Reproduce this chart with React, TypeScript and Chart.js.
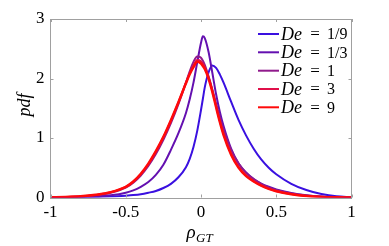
import React, { useEffect, useRef } from "react";
import { Chart, registerables } from "chart.js";

Chart.register(...registerables);

const xs = [-1, -0.9, -0.8, -0.7, -0.6, -0.5, -0.45, -0.4, -0.35, -0.3, -0.25, -0.2, -0.15, -0.1, -0.075, -0.05, -0.025, 0, 0.0125, 0.025, 0.05, 0.075, 0.1, 0.125, 0.15, 0.2, 0.25, 0.3, 0.35, 0.4, 0.45, 0.5, 0.6, 0.7, 0.8, 0.9, 1];

const pdfDe1_9 = [0.0, 0.002, 0.004, 0.008, 0.015, 0.03, 0.04, 0.055, 0.08, 0.11, 0.16, 0.23, 0.34, 0.51, 0.65, 0.85, 1.12, 1.47, 1.66, 1.85, 2.1, 2.22, 2.18, 2.07, 1.93, 1.61, 1.3, 1.04, 0.82, 0.64, 0.5, 0.39, 0.23, 0.125, 0.06, 0.02, 0.003];
const pdfDe1_3 = [0.001, 0.003, 0.007, 0.016, 0.036, 0.08, 0.12, 0.18, 0.26, 0.38, 0.55, 0.8, 1.08, 1.42, 1.65, 1.93, 2.27, 2.6, 2.71, 2.68, 2.45, 2.1, 1.74, 1.44, 1.2, 0.82, 0.57, 0.42, 0.31, 0.235, 0.18, 0.135, 0.075, 0.038, 0.017, 0.006, 0.001];
const pdfDe1 = [0.002, 0.007, 0.016, 0.036, 0.078, 0.165, 0.25, 0.37, 0.53, 0.73, 0.97, 1.25, 1.57, 1.93, 2.12, 2.28, 2.37, 2.35, 2.3, 2.23, 2.04, 1.82, 1.58, 1.35, 1.14, 0.8, 0.57, 0.41, 0.31, 0.23, 0.17, 0.125, 0.068, 0.033, 0.014, 0.005, 0.001];
const pdfDe3 = [0.003, 0.009, 0.019, 0.042, 0.088, 0.178, 0.265, 0.39, 0.56, 0.77, 1.01, 1.29, 1.6, 1.93, 2.09, 2.22, 2.31, 2.29, 2.25, 2.19, 2.02, 1.8, 1.54, 1.29, 1.07, 0.74, 0.51, 0.37, 0.275, 0.205, 0.15, 0.11, 0.057, 0.027, 0.011, 0.004, 0.001];
const pdfDe9 = [0.003, 0.01, 0.02, 0.045, 0.09, 0.18, 0.27, 0.4, 0.57, 0.78, 1.02, 1.3, 1.6, 1.92, 2.07, 2.19, 2.28, 2.25, 2.21, 2.16, 2.0, 1.78, 1.52, 1.27, 1.05, 0.72, 0.5, 0.36, 0.27, 0.2, 0.145, 0.105, 0.055, 0.025, 0.01, 0.004, 0.001];

const seriesLabels = ["1/9", "1/3", "1", "3", "9"];
const seriesValues = [pdfDe1_9, pdfDe1_3, pdfDe1, pdfDe3, pdfDe9];
const seriesColors = ["#3a10e0", "#6410b0", "#901a8c", "#e0104a", "#ff0a0a"];
const seriesWidths = [2, 2, 2, 2, 2.5];

const xTicks = [-1, -0.5, 0, 0.5, 1];
const yTicks = [0, 1, 2, 3];

const serif = '"Liberation Serif"';

const decorPlugin = {
  id: "decor",
  afterDraw(chart: any) {
    const { ctx, chartArea } = chart;
    const xs_ = chart.scales.x;
    const ys_ = chart.scales.y;
    const { left, right, top, bottom } = chartArea;
    ctx.save();
    ctx.strokeStyle = "#a0a0a0";
    ctx.lineWidth = 1;
    ctx.strokeRect(Math.floor(left) + 0.5, Math.floor(top) + 0.5, Math.round(right - left), Math.round(bottom - top));
    ctx.beginPath();
    for (const v of xTicks) {
      const px = Math.round(xs_.getPixelForValue(v)) + 0.5;
      ctx.moveTo(px, bottom);
      ctx.lineTo(px, bottom - 3);
      ctx.moveTo(px, top);
      ctx.lineTo(px, top + 3);
    }
    for (const v of yTicks) {
      const py = Math.round(ys_.getPixelForValue(v)) + 0.5;
      ctx.moveTo(left, py);
      ctx.lineTo(left + 3, py);
      ctx.moveTo(right, py);
      ctx.lineTo(right - 3, py);
    }
    ctx.stroke();

    ctx.fillStyle = "#000";
    ctx.save();
    ctx.translate(30, 105);
    ctx.rotate(-Math.PI / 2);
    ctx.font = `italic 18px ${serif}`;
    ctx.textAlign = "center";
    ctx.textBaseline = "alphabetic";
    ctx.fillText("pdf", 0, 0);
    ctx.restore();

    ctx.font = `italic 19px ${serif}`;
    ctx.textAlign = "left";
    ctx.textBaseline = "alphabetic";
    ctx.fillText("ρ", 186.5, 238);
    const rw = ctx.measureText("ρ").width;
    ctx.font = `italic 13px ${serif}`;
    ctx.fillText("GT", 186.5 + rw + 0.5, 242);

    const rows = [34, 52.3, 70.7, 89, 107.3];
    seriesLabels.forEach((lab, i) => {
      const y = rows[i];
      ctx.strokeStyle = seriesColors[i];
      ctx.lineWidth = 2;
      ctx.beginPath();
      ctx.moveTo(258, y);
      ctx.lineTo(279, y);
      ctx.stroke();
      ctx.textBaseline = "middle";
      ctx.textAlign = "left";
      ctx.font = `italic 18px ${serif}`;
      ctx.fillText("De", 281, y + 1);
      ctx.font = `17px ${serif}`;
      ctx.textAlign = "center";
      ctx.fillText("=", 315, y + 1);
      ctx.textAlign = "left";
      ctx.font = `16px ${serif}`;
      ctx.fillText(lab, 327, y + 1);
    });
    ctx.restore();
  },
};

export default function App() {
  const ref = useRef<HTMLCanvasElement>(null);
  useEffect(() => {
    const canvas = ref.current!;
    const datasets = seriesValues.map((vals, i) => ({
      label: "De = " + seriesLabels[i],
      data: vals.map((v, j) => ({ x: xs[j], y: v })),
      borderColor: seriesColors[i],
      backgroundColor: seriesColors[i],
      borderWidth: seriesWidths[i],
      pointRadius: 0,
      fill: false,
      cubicInterpolationMode: "monotone" as const,
      order: seriesValues.length - i,
    }));
    const chart = new Chart(canvas, {
      type: "line",
      data: { datasets },
      options: {
        responsive: false,
        animation: false,
        devicePixelRatio: 1,
        layout: { padding: { left: 0, top: 19, right: 37.5, bottom: 0 } },
        plugins: { legend: { display: false }, tooltip: { enabled: false } },
        scales: {
          x: {
            type: "linear",
            min: -1,
            max: 1,
            afterFit: (s: any) => { s.height = 48.5; },
            afterBuildTicks: (s: any) => { s.ticks = xTicks.map((v) => ({ value: v })); },
            grid: { display: false, drawTicks: false },
            border: { display: false },
            ticks: { font: { family: serif, size: 17 }, color: "#000", padding: 5, maxRotation: 0, callback: (v: any) => String(v) },
          },
          y: {
            type: "linear",
            min: 0,
            max: 3,
            afterFit: (s: any) => { s.width = 50.5; },
            afterBuildTicks: (s: any) => { s.ticks = yTicks.map((v) => ({ value: v })); },
            grid: { display: false, drawTicks: false },
            border: { display: false },
            ticks: { font: { family: serif, size: 17 }, color: "#000", padding: 6, callback: (v: any) => String(v) },
          },
        },
      },
      plugins: [decorPlugin],
    });
    return () => chart.destroy();
  }, []);
  return (
    <div style={{ position: "absolute", left: 0, top: 0, width: 389, height: 246, background: "#fff" }}>
      <canvas ref={ref} width={389} height={246} />
    </div>
  );
}
